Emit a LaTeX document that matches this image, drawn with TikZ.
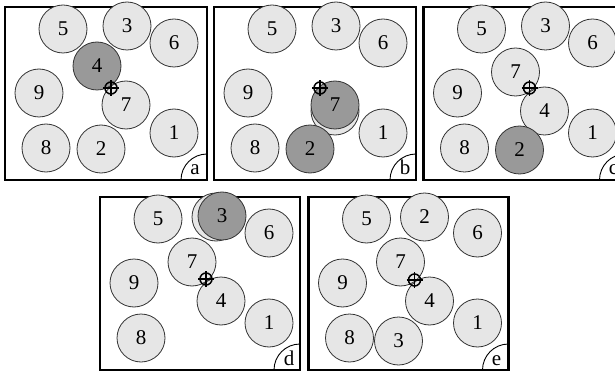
\documentclass[tikz,border=0pt]{standalone}
\usepackage{fontspec}
\setmainfont{Liberation Serif}
\usepackage{xcolor}
\usepackage{tikz}
\definecolor{disclight}{RGB}{230,230,230}
\definecolor{discdark}{RGB}{153,153,153}

\begin{document}
\begin{tikzpicture}[
    x=1pt, y=-1pt,
    every node/.style={font=\fontsize{21}{21}\selectfont},
    disc/.style={circle, draw=black!80, line width=0.8pt, fill=disclight, minimum size=48pt, inner sep=0pt},
    picked/.style={disc, fill=discdark},
    frame/.style={line width=2.4pt},
    corner/.style={line width=0.9pt},
    pin/.style={line width=1.5pt},
]
    \useasboundingbox (0,0) rectangle (615,374);

    % Panel a
    \begin{scope}[shift={(5,7)}]
        \draw[frame] (0,0) rectangle (202,173);
        \coordinate (a-se) at (202,173);
        \foreach \n/\x/\y in {5/58/22, 3/122/19, 6/169/36, 9/34/86, 7/121/98, 1/169/126, 8/41/141, 2/96/142}
            \node[disc] (a\n) at (\x,\y) {\n};
        \node[picked] (a4) at (92,59) {4};
        \coordinate (a-pin) at (106,81);
        \draw[pin] (a-pin) circle[radius=6pt];
        \draw[pin] ([xshift=-8pt]a-pin) -- ([xshift=8pt]a-pin);
        \draw[pin] ([yshift=-8pt]a-pin) -- ([yshift=8pt]a-pin);
        \draw[corner] ([xshift=-26pt]a-se) arc[start angle=180, end angle=90, radius=26pt];
        \node[anchor=base] (a-tag) at ([xshift=-12pt, yshift=5pt]a-se) {a};
    \end{scope}

    % Panel b
    \begin{scope}[shift={(214,7)}]
        \draw[frame] (0,0) rectangle (202,173);
        \coordinate (b-se) at (202,173);
        \foreach \n/\x/\y in {5/58/22, 3/122/19, 6/169/36, 9/34/86, 1/169/126, 8/41/141}
            \node[disc] (b\n) at (\x,\y) {\n};
        \node[disc] (b-ghost) at (121,104) {};
        \node[picked] (b7) at (121,98) {7};
        \node[picked] (b2) at (96,142) {2};
        \coordinate (b-pin) at (106,81);
        \draw[pin] (b-pin) circle[radius=6pt];
        \draw[pin] ([xshift=-8pt]b-pin) -- ([xshift=8pt]b-pin);
        \draw[pin] ([yshift=-8pt]b-pin) -- ([yshift=8pt]b-pin);
        \draw[corner] ([xshift=-26pt]b-se) arc[start angle=180, end angle=90, radius=26pt];
        \node[anchor=base] (b-tag) at ([xshift=-11pt, yshift=5pt]b-se) {b};
    \end{scope}

    % Panel c
    \begin{scope}[shift={(423.5,7)}]
        \draw[frame] (0,0) rectangle (202,173);
        \coordinate (c-se) at (202,173);
        \foreach \n/\x/\y in {5/58/22, 3/122/19, 6/169/36, 9/34/86, 7/92/65, 4/121/104, 1/169/126, 8/41/141}
            \node[disc] (c\n) at (\x,\y) {\n};
        \node[picked] (c2) at (96,143) {2};
        \coordinate (c-pin) at (106,81);
        \draw[pin] (c-pin) circle[radius=6pt];
        \draw[pin] ([xshift=-8pt]c-pin) -- ([xshift=8pt]c-pin);
        \draw[pin] ([yshift=-8pt]c-pin) -- ([yshift=8pt]c-pin);
        \draw[corner] ([xshift=-26pt]c-se) arc[start angle=180, end angle=90, radius=26pt];
        \node[anchor=base] (c-tag) at ([xshift=-12pt, yshift=5pt]c-se) {c};
    \end{scope}

    % Panel d
    \begin{scope}[shift={(100,197)}]
        \draw[frame] (0,0) rectangle (200,173);
        \coordinate (d-se) at (200,173);
        \foreach \n/\x/\y in {5/58/22, 6/169/36, 9/34/86, 7/92/65, 4/121/104, 1/169/126, 8/41/141}
            \node[disc] (d\n) at (\x,\y) {\n};
        \node[disc] (d-ghost) at (116,20) {};
        \node[picked] (d3) at (122,19) {3};
        \coordinate (d-pin) at (106,82);
        \draw[pin] (d-pin) circle[radius=6pt];
        \draw[pin] ([xshift=-8pt]d-pin) -- ([xshift=8pt]d-pin);
        \draw[pin] ([yshift=-8pt]d-pin) -- ([yshift=8pt]d-pin);
        \draw[corner] ([xshift=-26pt]d-se) arc[start angle=180, end angle=90, radius=26pt];
        \node[anchor=base] (d-tag) at ([xshift=-11pt, yshift=5pt]d-se) {d};
    \end{scope}

    % Panel e
    \begin{scope}[shift={(308.5,197)}]
        \draw[frame] (0,0) rectangle (200,173);
        \coordinate (e-se) at (200,173);
        \foreach \n/\x/\y in {5/58/22, 2/116/20, 6/169/36, 9/34/86, 7/92/65, 4/121/104, 1/169/126, 8/41/141, 3/90/144}
            \node[disc] (e\n) at (\x,\y) {\n};
        \coordinate (e-pin) at (106,83);
        \draw[pin] (e-pin) circle[radius=6pt];
        \draw[pin] ([xshift=-8pt]e-pin) -- ([xshift=8pt]e-pin);
        \draw[pin] ([yshift=-8pt]e-pin) -- ([yshift=8pt]e-pin);
        \draw[corner] ([xshift=-26pt]e-se) arc[start angle=180, end angle=90, radius=26pt];
        \node[anchor=base] (e-tag) at ([xshift=-12pt, yshift=5pt]e-se) {e};
    \end{scope}
\end{tikzpicture}
\end{document}
